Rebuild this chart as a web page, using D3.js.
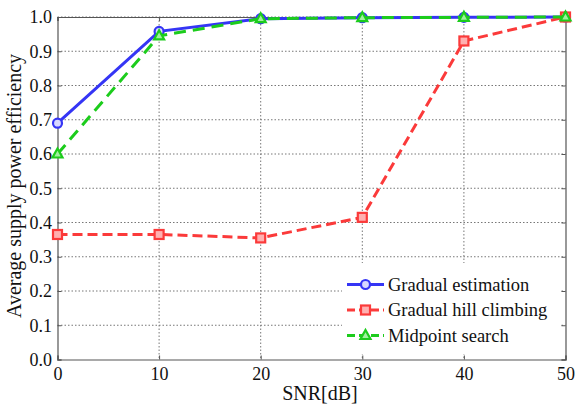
<!DOCTYPE html>
<html>
<head>
<meta charset="utf-8">
<script src="https://cdn.jsdelivr.net/npm/d3@7.9.0/dist/d3.min.js"></script>
<style>
  body { margin: 0; background: #fff; }
</style>
</head>
<body>
<svg width="576" height="405"></svg>
<script>
// data
const snr = [0, 10, 20, 30, 40, 50];
const gradualEstimation = [0.69, 0.958, 0.995, 0.998, 0.999, 1.0];
const hillClimbing = [0.365, 0.365, 0.355, 0.415, 0.93, 1.0];
const midpointSearch = [0.60, 0.945, 0.995, 0.998, 0.999, 1.0];
const xTicks = [0, 10, 20, 30, 40, 50];
const yTicks = [0, 0.1, 0.2, 0.3, 0.4, 0.5, 0.6, 0.7, 0.8, 0.9, 1.0];

const series = [
  { name: 'Gradual estimation', values: gradualEstimation, color: '#3535f5', dash: null, marker: 'circle' },
  { name: 'Gradual hill climbing', values: hillClimbing, color: '#fb3a3a', dash: '10,5', marker: 'square' },
  { name: 'Midpoint search', values: midpointSearch, color: '#1ccc1c', dash: '12,7', marker: 'triangle' }
];

const serif = "'Liberation Serif', 'Times New Roman', Times, serif";
const svg = d3.select('svg').style('font-family', serif);
const m = { left: 57.5, right: 565.5, top: 17, bottom: 359.5 };

let x = d3.scaleLinear().domain([0, 50]).range([m.left, m.right]);
let y = d3.scaleLinear().domain([0, 1]).range([m.bottom, m.top]);

// grid
let grid = svg.append('g').attr('stroke', '#777').attr('stroke-width', 1).attr('stroke-dasharray', '1.5,2');
xTicks.slice(1, -1).forEach(t => {
  grid.append('line').attr('x1', x(t)).attr('x2', x(t)).attr('y1', m.top).attr('y2', m.bottom);
});
yTicks.slice(1).forEach(t => {
  grid.append('line').attr('x1', m.left).attr('x2', m.right).attr('y1', y(t)).attr('y2', y(t));
});

// axes with inward ticks
svg.append('g').attr('transform', `translate(0,${m.bottom})`)
  .call(d3.axisBottom(x).tickValues(xTicks).tickSize(-4).tickPadding(8).tickFormat(d3.format('d')));
svg.append('g').attr('transform', `translate(${m.left},0)`)
  .call(d3.axisLeft(y).tickValues(yTicks).tickSize(-4).tickPadding(5.5).tickFormat(d3.format('.1f')));
svg.append('g').attr('transform', `translate(0,${m.top})`)
  .call(d3.axisTop(x).tickValues(xTicks).tickSize(-4).tickFormat(''));
svg.append('g').attr('transform', `translate(${m.right},0)`)
  .call(d3.axisRight(y).tickValues(yTicks).tickSize(-4).tickFormat(''));

svg.selectAll('.domain').attr('stroke', '#555').attr('stroke-width', 1.2);
svg.selectAll('.tick line').attr('stroke', '#555');
svg.selectAll('g').attr('font-family', null);
svg.selectAll('.tick text').style('font-size', '18px').style('font-family', serif).attr('fill', '#111');

// lines
let line = d3.line().x((d, i) => x(snr[i])).y(d => y(d));

function drawMarker(g, type, cx, cy, color) {
  if (type === 'circle') {
    g.append('circle').attr('cx', cx).attr('cy', cy).attr('r', 4.5)
      .attr('fill', '#d8d8ff').attr('stroke', color).attr('stroke-width', 2.2);
  } else if (type === 'square') {
    g.append('rect').attr('x', cx - 4.5).attr('y', cy - 4.5).attr('width', 9).attr('height', 9)
      .attr('fill', '#ffb0b0').attr('stroke', color).attr('stroke-width', 2.2);
  } else {
    g.append('path').attr('d', `M${cx},${cy - 5.5}L${cx + 5},${cy + 3.5}L${cx - 5},${cy + 3.5}Z`)
      .attr('fill', '#a0f0a0').attr('stroke', color).attr('stroke-width', 2.2);
  }
}

series.forEach(s => {
  let g = svg.append('g');
  g.append('path').attr('d', line(s.values)).attr('fill', 'none')
    .attr('stroke', s.color).attr('stroke-width', 3)
    .attr('stroke-dasharray', s.dash);
  s.values.forEach((v, i) => drawMarker(g, s.marker, x(snr[i]), y(v), s.color));
});

// legend
let legend = svg.append('g');
legend.append('rect').attr('x', 342).attr('y', 263).attr('width', 218).attr('height', 91).attr('fill', '#fff');
series.forEach((s, i) => {
  let ly = 284.5 + i * 25.5;
  legend.append('line').attr('x1', 347).attr('x2', 384).attr('y1', ly).attr('y2', ly)
    .attr('stroke', s.color).attr('stroke-width', 3).attr('stroke-dasharray', s.dash ? '8,4' : null);
  drawMarker(legend, s.marker, 365.5, ly, s.color);
  legend.append('text').attr('x', 388).attr('y', ly + 6)
    .style('font-family', serif).style('font-size', '18.5px').attr('fill', '#111').text(s.name);
});

// axis labels
svg.append('text').attr('x', 320).attr('y', 400).attr('text-anchor', 'middle')
  .style('font-family', serif).style('font-size', '20px').attr('fill', '#111').text('SNR[dB]');
svg.append('text').attr('transform', 'translate(21,186) rotate(-90)').attr('text-anchor', 'middle')
  .style('font-family', serif).style('font-size', '20px').attr('fill', '#111').text('Average supply power efficiency');
</script>
</body>
</html>
